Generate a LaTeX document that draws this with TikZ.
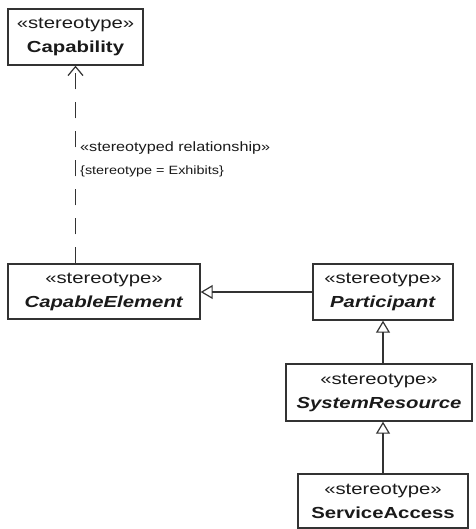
\documentclass[tikz,border=0pt]{standalone}
\usepackage{fontspec}
\setmainfont{Liberation Sans}
\usetikzlibrary{arrows.meta}
\newcommand{\hs}[1]{\scalebox{1.2}[1]{#1}}
\newcommand{\hb}[1]{\scalebox{1.27}[1]{#1}}
\definecolor{linec}{HTML}{333333}
\definecolor{textc}{HTML}{1A1A1A}
\begin{document}
\begin{tikzpicture}[x=1pt,y=-1pt,
  umlbox/.style={draw=linec, line width=1.4pt, rectangle, inner sep=0pt, align=center,
    text=textc, font=\fontsize{16}{24}\selectfont},
  lbl/.style={anchor=west, inner sep=0pt, text=textc},
  gen/.style={draw=linec, line width=1.2pt, -{Triangle[open, length=12pt, width=14pt, line width=1.2pt]}},
  dep/.style={draw=linec, line width=1.2pt, dash pattern=on 16pt off 13pt, -{Straight Barb[length=9pt, width=15pt, line width=1.2pt]}}
]
\useasboundingbox (0,0) rectangle (475,529);
\node[umlbox, minimum width=135pt, minimum height=56pt] (cap) at (75.5,37)
  {\hb{«stereotype»}\\\hb{\textbf{Capability}}};
\node[umlbox, minimum width=192pt, minimum height=55pt] (ce) at (104,291.5)
  {\hb{«stereotype»}\\\hb{\textbf{\textit{CapableElement}}}};
\node[umlbox, minimum width=140pt, minimum height=56pt] (part) at (383,292)
  {\hb{«stereotype»}\\\hb{\textbf{\textit{Participant}}}};
\node[umlbox, minimum width=186pt, minimum height=57pt] (sr) at (379,392.5)
  {\hb{«stereotype»}\\\hb{\textbf{\textit{SystemResource}}}};
\node[umlbox, minimum width=170pt, minimum height=54pt] (sa) at (383,501)
  {\hb{«stereotype»}\\\hb{\textbf{ServiceAccess}}};

\draw[dep] (ce.north -| cap.south) -- (cap.south);
\draw[gen] (part.west) -- (part.west -| ce.east);
\draw[gen] (sr.north -| part.south) -- (part.south);
\draw[gen] (sa.north) -- (sa.north |- sr.south);

\node[lbl, font=\fontsize{13.5}{16}\selectfont] (l1) at (80,148) {\hs{«stereotyped relationship»}};
\node[lbl, font=\fontsize{12}{14}\selectfont] (l2) at (80,171) {\hs{\{stereotype = Exhibits\}}};
\end{tikzpicture}
\end{document}
